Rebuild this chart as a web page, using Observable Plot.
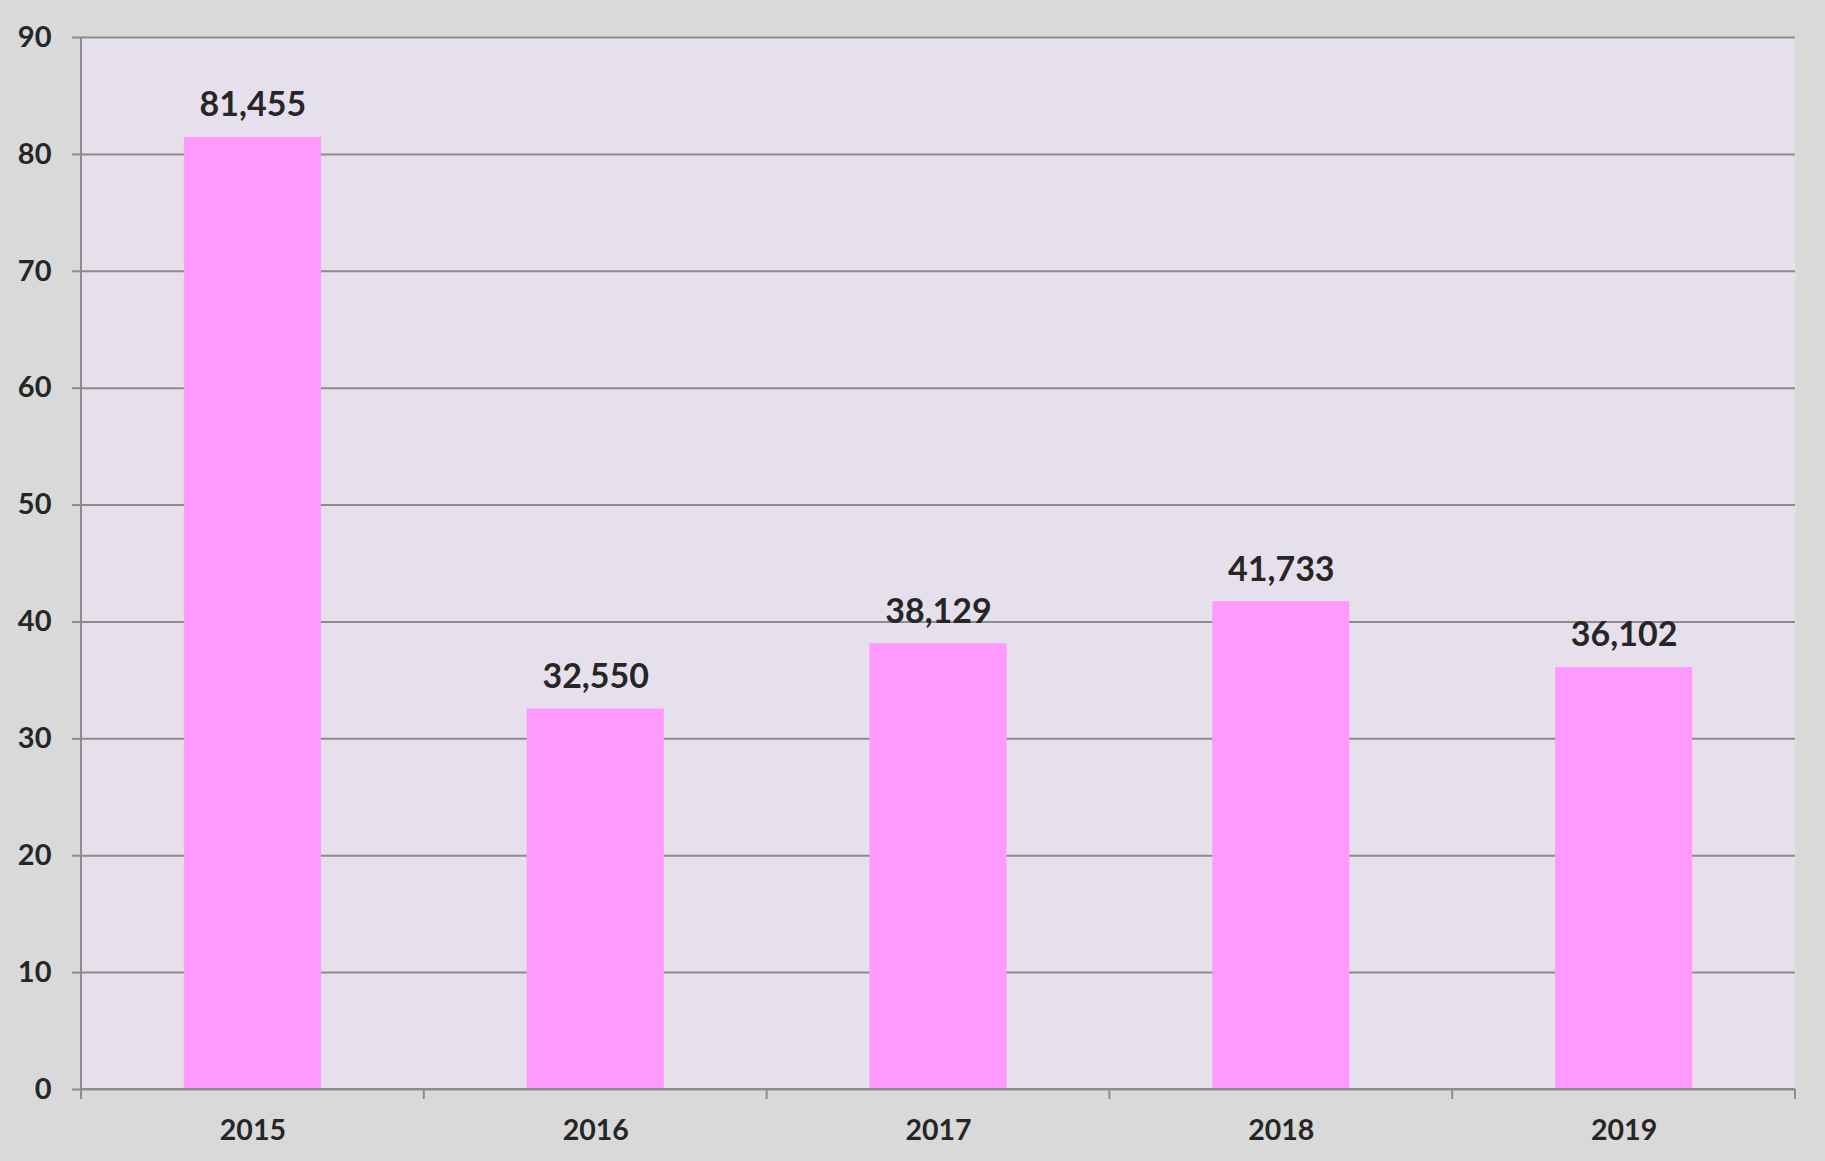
<!DOCTYPE html>
<html><head><meta charset="utf-8">
<script src="https://cdn.jsdelivr.net/npm/d3@7"></script>
<script src="https://cdn.jsdelivr.net/npm/@observablehq/plot@0.6"></script>
<style>
html,body{margin:0;padding:0;background:#d9d9d9;}
#chart svg{display:block;}
</style></head><body><div id="chart"></div>
<script>
const years = ["2015", "2016", "2017", "2018", "2019"];
const values = [81.455, 32.550, 38.129, 41.733, 36.102];
const valueLabels = ["81,455", "32,550", "38,129", "41,733", "36,102"];
const yTicks = [0, 10, 20, 30, 40, 50, 60, 70, 80, 90];

const data = years.map((yr, i) => ({year: yr, value: values[i], label: valueLabels[i]}));

const font = "Lato, 'Open Sans', sans-serif";
const gridColor = "#8c8c8c";
const textColor = "#262626";

function axisLines(index, scales, vals, dims) {
  const {width, marginLeft, marginRight, marginTop} = dims;
  const x = scales.x, y = scales.y;
  const y0 = y(0);
  const bw = x.bandwidth ? x.bandwidth() : 0;
  const step = x.step ? x.step() : (width - marginLeft - marginRight) / years.length;
  const bounds = years.map(yr => x(yr) + bw / 2 - step / 2);
  bounds.push(bounds[bounds.length - 1] + step);
  const g = d3.create("svg:g").attr("stroke", gridColor).attr("stroke-width", 2).attr("fill", "none");
  g.append("line").attr("x1", marginLeft).attr("x2", marginLeft).attr("y1", marginTop).attr("y2", y0 + 10);
  g.append("line").attr("x1", marginLeft).attr("x2", width - marginRight).attr("y1", y0).attr("y2", y0);
  for (const b of bounds) {
    g.append("line").attr("x1", b).attr("x2", b).attr("y1", y0).attr("y2", y0 + 10);
  }
  return g.node();
}

const chart = Plot.plot({
  width: 1825,
  height: 1161,
  marginLeft: 81,
  marginRight: 30,
  marginTop: 37,
  marginBottom: 72,
  style: {background: "#d9d9d9", fontFamily: font, color: textColor},
  x: {domain: years, paddingInner: 0.6, paddingOuter: 0.3, round: false, label: null},
  y: {domain: [0, 90], label: null},
  marks: [
    Plot.frame({fill: "#e6e0ec", stroke: "none"}),
    Plot.gridY(yTicks, {stroke: gridColor, strokeOpacity: 1, strokeWidth: 2}),
    Plot.barY(data, {x: "year", y: "value", fill: "#ff99ff"}),
    Plot.text(data, {x: "year", y: "value", text: "label", dy: -32, fontSize: 34, fontWeight: "bold", fill: textColor}),
    Plot.axisY(yTicks, {tickSize: 9, tickPadding: 21, fontSize: 29, fontWeight: "bold", stroke: gridColor, strokeWidth: 2, fill: textColor, tickFormat: d => String(d), label: null}),
    Plot.axisX({tickSize: 0, tickPadding: 30, fontSize: 28.5, fontWeight: "bold", fill: textColor, label: null}),
    axisLines
  ]
});
document.getElementById("chart").appendChild(chart);
</script>
</body></html>
